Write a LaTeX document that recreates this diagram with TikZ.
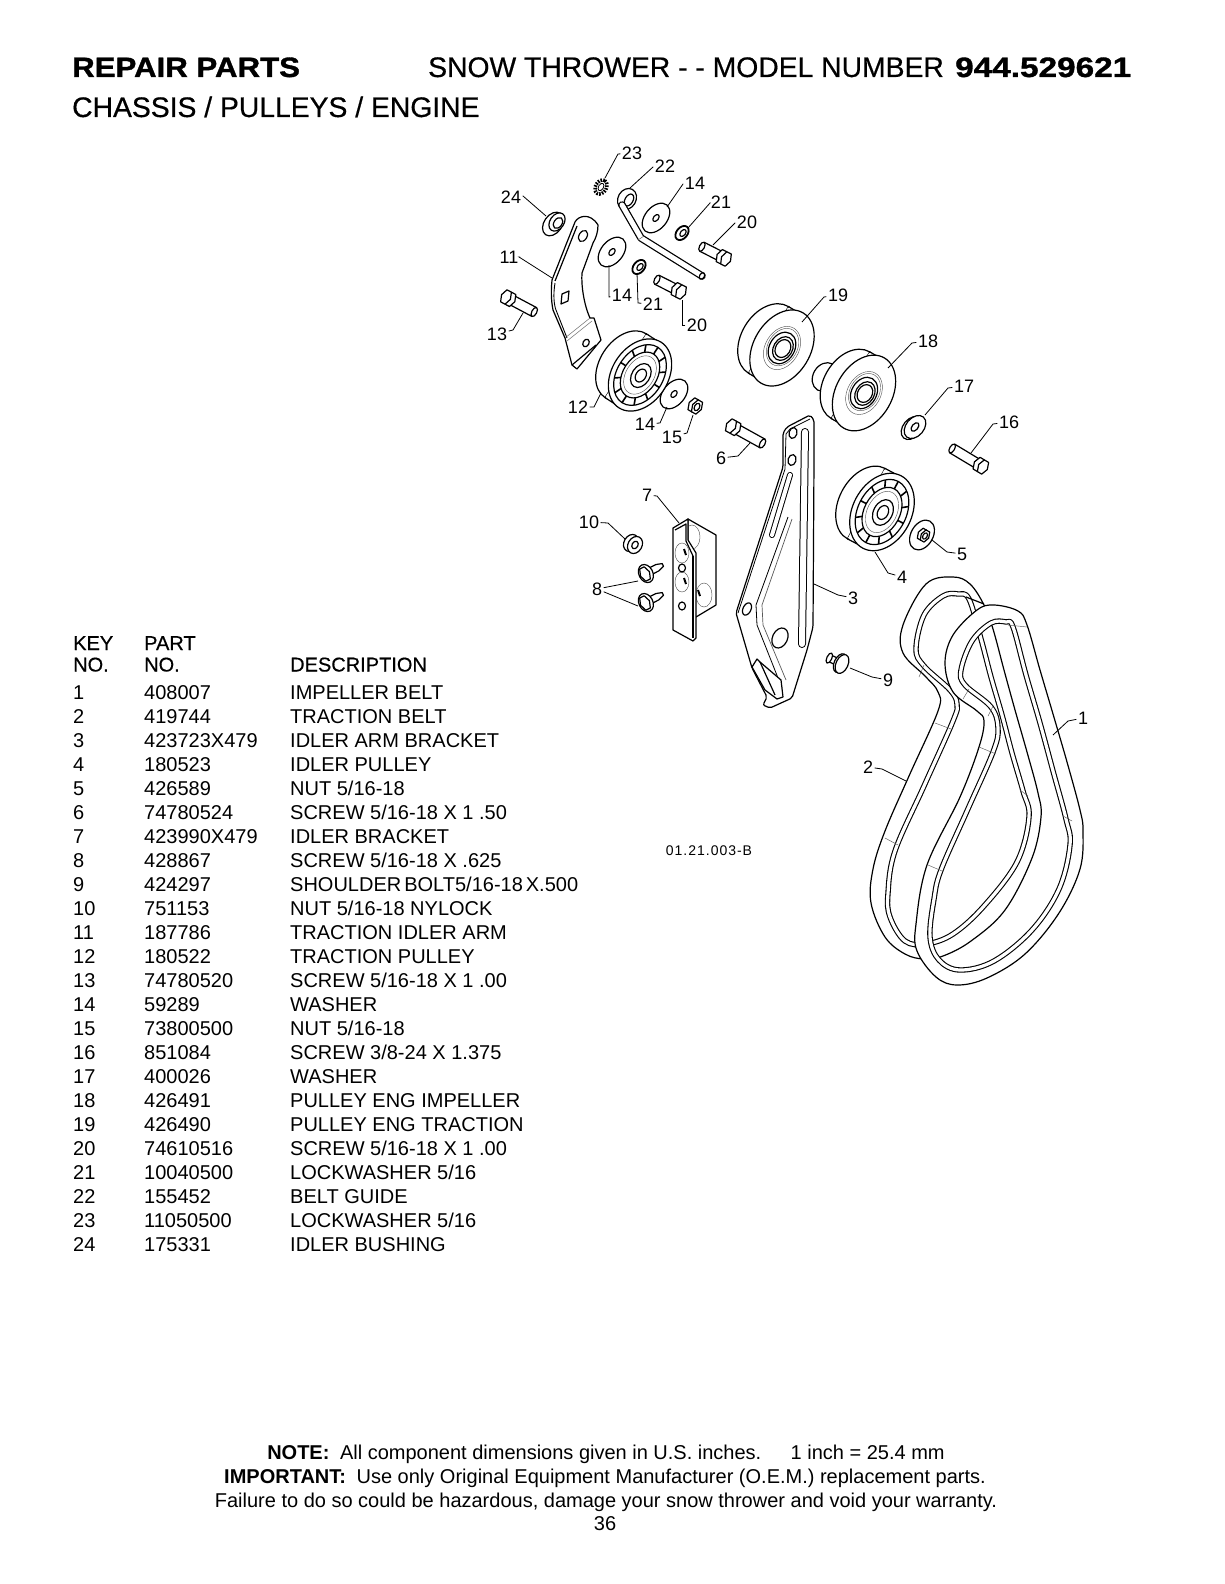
\documentclass[tikz,border=0pt]{standalone}
\usepackage{fontspec}
\setmainfont{Liberation Sans}
\newfontfamily\heavyfont[FakeStretch=1.115,FakeBold=1.2]{Liberation Sans}
\newfontfamily\modelfont[FakeStretch=1.19,FakeBold=1.2]{Liberation Sans}
\newfontfamily\headfont[FakeBold=.5]{Liberation Sans}
\usetikzlibrary{calc}

\newcommand{\hexface}{(5,0)--(2.5,6.8)--(-2.5,6.8)--(-5,0)--(-2.5,-6.8)--(2.5,-6.8)--cycle}
\newcommand{\beltone}{(994,605)(1018,611)(1027,625)(1040,670)(1053,714)(1067,762)(1080,810)(1083,831)(1080,869)(1059,913)(1025,954)(987,978)(957,985)(936,977)(917,951)(916,924)(927,865)(960,797)(979,747)(984,721)(977,711)(953,692)(945,663)(953,635)(977,610)}
\newcommand{\ribone}{(1006,622)(1013,627)(1026,675)(1040,723)(1053,771)(1066,819)(1070,845)(1059,889)(1032,930)(994,961)(960,970)(939,960)(930,937)(934,899)(941,870)(967,811)(993,752)(998,728)(991,707)(965,685)(961,670)(972,641)(991,623)}
\newcommand{\belttwo}{(953,577)(970,584)(984,605)(993,629)(1004,670)(1015,710)(1027,752)(1038,793)(1041,817)(1032,858)(1005,910)(971,941)(943,956)(924,959)(905,954)(885,937)(871,903)(873,869)(885,831)(909,776)(938,711)(938,692)(926,677)(903,653)(903,625)(926,584)}
\newcommand{\ribtwo}{(958,594)(969,599)(981,639)(991,677)(1002,715)(1012,753)(1023,791)(1029,817)(1017,862)(984,906)(953,934)(926,944)(905,941)(890,917)(888,893)(895,851)(924,786)(953,721)(957,704)(950,690)(924,666)(916,649)(924,615)(943,596)}

\tikzset{
  part/.style={draw=black,fill=white,line width=1.2pt,line join=round},
  outline/.style={draw=black,line width=1.2pt,line join=round},
  fine/.style={draw=black!65,line width=.45pt},
  leader/.style={draw=black,line width=.8pt},
  callout/.style={font=\fontsize{18}{18}\selectfont,inner sep=1.5pt},
  rowtext/.style={font=\fontsize{20}{20}\selectfont,anchor=base west,inner sep=0pt},
  rowhead/.style={font=\headfont\fontsize{20}{20}\selectfont,anchor=base west,inner sep=0pt},
  headline/.style={font=\headfont\fontsize{28.3}{28.3}\selectfont,anchor=base west,inner sep=0pt},
  heavyline/.style={font=\heavyfont\bfseries\fontsize{28}{28}\selectfont,anchor=base west,inner sep=0pt},
  modelline/.style={font=\modelfont\bfseries\fontsize{28}{28}\selectfont,anchor=base west,inner sep=0pt},
  footline/.style={font=\fontsize{20}{20}\selectfont,anchor=base,inner sep=0pt},
  ribcasing/.style={draw=black,line width=5.4pt,line join=round},
  ribcore/.style={draw=white,line width=3.2pt,line join=round},
  pics/hexbolt/.style={code={
    \draw[part] (5,-5) -- (#1,-5) -- (#1,5) -- (5,5) -- cycle;
    \draw[part] (#1,0) ellipse [x radius=2.5,y radius=5];
    \draw[part,xshift=5pt] \hexface;
    \draw[part] \hexface;
  }},
  pics/hexnut/.style={code={
    \draw[part,xshift=4pt] \hexface;
    \draw[part] \hexface;
    \draw[outline] (0,0) ellipse [x radius=2.5,y radius=4];
  }},
  pics/flangescrew/.style={code={
    \draw[part] (0,-3.5) -- (#1-6,-3.5) -- (#1,-1.5) -- (#1,1.5) -- (#1-6,3.5) -- (0,3.5) -- cycle;
    \draw[part] (1,0) ellipse [x radius=7,y radius=9.5];
    \draw[part] \hexface;
  }},
  pics/shoulderbolt/.style={code={
    \draw[part] (0,-3.5) -- (#1,-3.5) -- (#1,3.5) -- (0,3.5) -- cycle;
    \draw[part] (#1,0) ellipse [x radius=2.5,y radius=5.5];
    \draw[part] (2,0) ellipse [x radius=6,y radius=10];
    \draw[part] (0,0) ellipse [x radius=6,y radius=10];
  }},
  pics/idler/.style={code={
    \draw[part] (0,-17) ellipse [x radius=38,y radius=26];
    \draw[part] (-38,-17) -- (-38,0) -- (38,0) -- (38,-17) -- cycle;
    \draw[draw=none,fill=white] (-36.8,-17) rectangle (36.8,-2);
    \draw[part] (0,0) ellipse [x radius=39,y radius=28];
    \draw[outline] (0,0) ellipse [x radius=33,y radius=23];
    \draw[outline,fill=white] (0,0) ellipse [x radius=25,y radius=17];
    \foreach \ang in {0,30,...,330} {
      \draw[outline,line width=1.6pt] ({33*cos(\ang)},{23*sin(\ang)}) -- ({25*cos(\ang)},{17*sin(\ang)});
    }
    \draw[fine] (0,0) ellipse [x radius=21,y radius=14];
    \draw[outline] (0,1) ellipse [x radius=13,y radius=9];
    \draw[outline] (0,1) ellipse [x radius=7,y radius=5];
  }},
  pics/vpulley/.style={code={
    \draw[part] (0,-15) ellipse [x radius=37,y radius=26];
    \draw[part] (-37,-15) -- (-37,0) -- (37,0) -- (37,-15) -- cycle;
    \draw[draw=none,fill=white] (-35.8,-15) rectangle (35.8,-2);
    \draw[part] (0,0) ellipse [x radius=39,y radius=27];
    \draw[fine] (0,0) ellipse [x radius=22,y radius=16];
    \draw[fine] (1,0) ellipse [x radius=19,y radius=14];
    \draw[outline] (0,0) ellipse [x radius=16,y radius=12];
    \draw[outline] (0,1) ellipse [x radius=12,y radius=9];
    \draw[outline] (0,1) ellipse [x radius=9,y radius=7];
  }},
}

\begin{document}
\begin{tikzpicture}[x=1pt,y=-1pt]
\useasboundingbox (0,0) rectangle (1224,1584);

% headings
\node[heavyline] (hrepair) at (72,77) {REPAIR PARTS};
\node[headline] (hsnow) at (428,77) {SNOW THROWER - - MODEL NUMBER};
\node[modelline] (hmodel) at (955,77) {944.529621};
\node[headline] (hchassis) at (72,117) {CHASSIS / PULLEYS / ENGINE};

% parts table
\node[rowhead] (tkey) at (73,650) {KEY};
\node[rowhead] (tpart) at (144,650) {PART};
\node[rowhead] (tno) at (73,671.5) {NO.};
\node[rowhead] (tnum) at (144,671.5) {NO.};
\node[rowhead] (tdesc) at (290,671.5) {DESCRIPTION};
\foreach \kno/\pno/\desc [count=\i] in {
  1/408007/{IMPELLER BELT},
  2/419744/{TRACTION BELT},
  3/423723X479/{IDLER ARM BRACKET},
  4/180523/{IDLER PULLEY},
  5/426589/{NUT 5/16-18},
  6/74780524/{SCREW 5/16-18 X 1 .50},
  7/423990X479/{IDLER BRACKET},
  8/428867/{SCREW 5/16-18 X .625},
  9/424297/{SHOULDER\hspace{3pt}BOLT5/16-18\hspace{3pt}X.500},
  10/751153/{NUT 5/16-18 NYLOCK},
  11/187786/{TRACTION IDLER ARM},
  12/180522/{TRACTION PULLEY},
  13/74780520/{SCREW 5/16-18 X 1 .00},
  14/59289/{WASHER},
  15/73800500/{NUT 5/16-18},
  16/851084/{SCREW 3/8-24 X 1.375},
  17/400026/{WASHER},
  18/426491/{PULLEY ENG IMPELLER},
  19/426490/{PULLEY ENG TRACTION},
  20/74610516/{SCREW 5/16-18 X 1 .00},
  21/10040500/{LOCKWASHER 5/16},
  22/155452/{BELT GUIDE},
  23/11050500/{LOCKWASHER 5/16},
  24/175331/{IDLER BUSHING}} {
  \node[rowtext] (rk\i) at (73,{699+24*(\i-1)}) {\kno};
  \node[rowtext] (rp\i) at (144,{699+24*(\i-1)}) {\pno};
  \node[rowtext] (rd\i) at (290,{699+24*(\i-1)}) {\desc};
}

% belts
\draw[part,even odd rule] plot[smooth cycle,tension=.6] coordinates {\belttwo} plot[smooth cycle,tension=.6] coordinates {\ribtwo};
\draw[ribcasing] plot[smooth cycle,tension=.6] coordinates {\ribtwo};
\draw[ribcore] plot[smooth cycle,tension=.6] coordinates {\ribtwo};
\draw[outline] (966,597) -- (984,604);
\draw[part,even odd rule] plot[smooth cycle,tension=.6] coordinates {\beltone} plot[smooth cycle,tension=.6] coordinates {\ribone};
\draw[ribcasing] plot[smooth cycle,tension=.6] coordinates {\ribone};
\draw[ribcore] plot[smooth cycle,tension=.6] coordinates {\ribone};
\foreach \ax/\ay/\bx/\by in {885/838/898/845,928/865/942/871,979/747/996/754,935/723/951/729,924/665/919/677,969/689/963/699,993/706/988/716,1020/790/1028/796,1063/816/1072/821,1008/625/1027/627} {
  \draw[fine] (\ax,\ay) -- (\bx,\by);
}

% upper group
\draw[part] (552,280) -- (575,222) .. controls (578,216) and (590,212) .. (598,225) .. controls (598,232) and (596,238) .. (593,243) -- (582,273) .. controls (581,285) and (584,305) .. (590,318) -- (594,318) -- (601,340) -- (577,369) -- (572,365) -- (565,338) -- (553,310) .. controls (551,300) and (551,290) .. (552,280) -- cycle;
\draw[outline] (555,281) -- (577,226);
\draw[outline,line width=.9pt] (555,283) .. controls (553,295) and (554,305) .. (556,310) -- (567,338);
\draw[fine] (565,338) -- (590,318);
\draw[fine] (567,341) -- (592,321);
\draw[outline] (572,365) -- (596,345);
\draw[outline] (583,236) ellipse [x radius=6,y radius=4,rotate=60];
\draw[outline] (562,294) -- (569,291) -- (568,301) -- (561,304) -- cycle;
\draw[outline] (586,343) ellipse [x radius=4,y radius=3,rotate=60];
\draw[part] (627,199) ellipse [x radius=11,y radius=9,rotate=60];
\draw[outline] (629,200) ellipse [x radius=6.5,y radius=4,rotate=60];
\draw[outline,line width=7.5pt,line cap=round] (622,205) -- (641,238) -- (702,276);
\draw[draw=white,line width=5pt,line cap=round] (622,205) -- (641,238) -- (702,276);
\draw[fine] (638,240) -- (644,236);
\draw[outline] (702,276) ellipse [x radius=3.6,y radius=2.4,rotate=60];
\draw[part] (553,224) ellipse [x radius=13,y radius=9,rotate=55];
\draw[part] (557,222) ellipse [x radius=10,y radius=7,rotate=55];
\draw[outline] (558,223) ellipse [x radius=6,y radius=4,rotate=55];
\foreach \cx/\cy in {656/218,612/252,674/394} {
  \draw[part] (\cx,\cy) ellipse [x radius=17,y radius=11,rotate=50];
  \draw[outline] (\cx,\cy) ellipse [x radius=4,y radius=2.5,rotate=50];
}
\foreach \cx/\cy in {682/233,639/267} {
  \draw[part,line width=1.8pt] (\cx,\cy) ellipse [x radius=8,y radius=5.5,rotate=50];
  \draw[outline] (\cx+1,\cy) ellipse [x radius=4,y radius=2.5,rotate=50];
}
\draw[draw=black,line width=3.5pt,dash pattern=on 1.6pt off 1.2pt] (601,187) ellipse [x radius=7.5,y radius=5.5,rotate=60];
\draw[fill=white,draw=black,line width=.8pt] (601,187) ellipse [x radius=4,y radius=2.5,rotate=60];
\pic[rotate=153] at (726,259) {hexbolt={27}};
\pic[rotate=153] at (681,292) {hexbolt={27}};
\pic[rotate=-28] at (506,297) {hexbolt={32}};
\pic[rotate=57] at (640,375) {idler};
\pic[rotate=150] at (697,407) {hexnut};

% engine pulleys and right side
\pic[rotate=59,scale=1.05] at (782,348) {vpulley};
\draw[part] (825,377) ellipse [x radius=15,y radius=12,rotate=60];
\draw[outline] (832,366) -- (839,369);
\pic[rotate=60,scale=1.04] at (864,393) {vpulley};
\draw[part] (912,428) ellipse [x radius=13,y radius=9,rotate=50];
\draw[part] (915,427) ellipse [x radius=13,y radius=9,rotate=50];
\draw[outline] (915,427) ellipse [x radius=5,y radius=3,rotate=50];
\pic[rotate=149] at (983,467) {hexbolt={36}};
\pic[rotate=-29] at (731,426) {hexbolt={36}};
\pic[rotate=62,scale=1.05] at (882,512) {idler};
\draw[part] (922,535) ellipse [x radius=16,y radius=11,rotate=60];
\pic[rotate=150,scale=.85] at (925,536) {hexnut};

% idler arm bracket
\draw[part,rounded corners=2pt] (783,433) -- (787,427) -- (810,415) -- (814,420) -- (814,460) -- (813,627) -- (807,650) -- (792,698) -- (770,708) -- (763,705) -- (767,697) -- (752,668) -- (736,613) -- (783,467) -- cycle;
\draw[outline,line width=.8pt] (738,613) -- (785,469) -- (786,434) -- (790,429) -- (810,419);
\draw[ribcasing,line width=6pt,line cap=round] (790,475) -- (772,535);
\draw[ribcore,line width=4pt,line cap=round] (790,475) -- (772,535);
\draw[ribcasing,line width=8pt,line cap=round] (805,432) -- (802,644);
\draw[ribcore,line width=6pt,line cap=round] (805,432) -- (802,644);
\draw[outline,line width=.8pt] (788,517) -- (756,605) -- (757,625) -- (782,688);
\draw[fine,line width=.7pt] (792,519) -- (762,605) -- (763,625) -- (786,680);
\draw[outline] (793,433) ellipse [x radius=5.5,y radius=4,rotate=75];
\draw[outline] (792,460) ellipse [x radius=5.5,y radius=4,rotate=75];
\draw[outline] (747,609) ellipse [x radius=6.5,y radius=4,rotate=65];
\draw[part] (780,638) ellipse [x radius=10.5,y radius=7.5,rotate=65];
\draw[part] (752,667) -- (757,659) -- (760,662) -- (781,680) -- (783,697) -- (777,699) -- (765,690) -- cycle;
\draw[outline] (760,662) -- (775,695);

% idler bracket and screws
\draw[part] (688,519) -- (716,535) -- (716,605) -- (696,617) -- (688,600) -- cycle;
\draw[fine] (692,537) ellipse [x radius=8,y radius=12];
\draw[fine] (704,595) ellipse [x radius=8,y radius=12];
\draw[part] (673,528) -- (688,519) -- (688,540) -- (696,553) -- (696,638) -- (693,641) -- (673,630) -- cycle;
\draw[outline] (693,556) -- (693,638);
\draw[outline] (675,530) -- (686,524) -- (686,541) -- (693,556);
\draw[fine] (682,553) ellipse [x radius=7,y radius=10];
\draw[fine] (682,582) ellipse [x radius=7,y radius=10];
\draw[outline,line width=2pt] (684,549) -- (686,555);
\draw[outline,line width=2pt] (684,578) -- (686,584);
\draw[outline,line width=2pt] (698,590) -- (700,596);
\draw[outline] (682,568) ellipse [x radius=3.5,y radius=4];
\draw[outline] (682,606) ellipse [x radius=3.5,y radius=4];
\pic[rotate=27] at (645,574) {flangescrew={20}};
\pic[rotate=27] at (645,603) {flangescrew={20}};
\draw[part] (631,543) ellipse [x radius=9,y radius=7,rotate=60];
\draw[part] (635,545) ellipse [x radius=9,y radius=7,rotate=60];
\draw[outline] (635,545) ellipse [x radius=4,y radius=3,rotate=60];
\pic[rotate=155] at (842,664) {shoulderbolt={14}};

% callouts
\foreach \id/\txt/\lx/\ly/\bx/\by/\ex/\ey in {
  a/23/632/153/618/154/605/178,
  b/22/665/166/653/167/630/188,
  c/14/695/183/683/184/667/207,
  d/21/721/202/710/203/688/228,
  e/20/747/222/735/223/713/245,
  f/24/511/197/523/196/546/216,
  g/11/509/257/519/257/552/278,
  h/14/622/295/609/297/609/265,
  i/21/653/304/638/303/637/273,
  j/20/697/325/682/325/682/300,
  k/13/497/334/513/330/523/313,
  l/12/578/407/594/407/601/393,
  m/14/645/424/660/423/667/407,
  n/15/672/437/687/433/693/415,
  o/19/838/295/824/297/802/322,
  p/18/928/341/912/343/888/368,
  q/17/964/386/948/388/925/415,
  r/16/1009/422/993/424/971/453,
  s/6/721/458/738/456/750/443,
  t/5/962/554/947/552/932/540,
  u/4/902/577/888/573/875/552,
  v/3/853/598/838/595/814/584,
  w/7/647/495/657/496/679/523,
  x/10/589/522/608/523/625/539,
  y/9/888/680/872/677/850/668,
  z/1/1083/718/1068/721/1053/735,
  aa/2/868/767/882/769/906/781} {
  \node[callout] (k\id) at (\lx,\ly) {\txt};
  \coordinate (b\id) at (\bx,\by);
  \coordinate (e\id) at (\ex,\ey);
  \draw[leader] (k\id) -- (b\id) -- (e\id);
}
\node[callout] (keight) at (597,589) {8};
\coordinate (eeighta) at (638,581);
\coordinate (eeightb) at (638,606);
\draw[leader] (keight) -- (eeighta);
\draw[leader] (keight) -- (eeightb);

\node[font=\fontsize{14}{14}\addfontfeature{LetterSpace=7}\selectfont,inner sep=0pt] (drawno) at (709,851) {01.21.003-B};

% footer
\node[footline] (fnote) at (606,1459) {\textbf{NOTE:}\hspace{5pt} All component dimensions given in U.S. inches.\hspace{22pt} 1 inch = 25.4 mm};
\node[footline] (fimp) at (605,1483) {\textbf{IMPORTANT:}\hspace{5pt} Use only Original Equipment Manufacturer (O.E.M.) replacement parts.};
\node[footline] (ffail) at (606,1507) {Failure to do so could be hazardous, damage your snow thrower and void your warranty.};
\node[footline] (fpage) at (605,1530) {36};
\end{tikzpicture}
\end{document}
